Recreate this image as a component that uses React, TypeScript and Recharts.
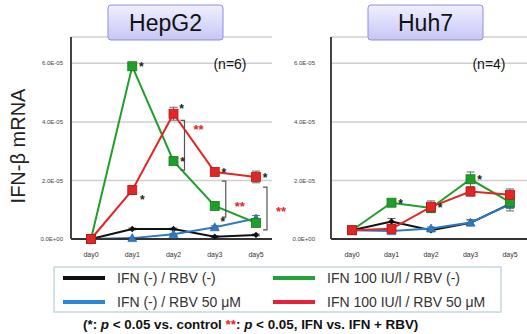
import React from 'react';
import { LineChart, Line, XAxis, YAxis, CartesianGrid, ErrorBar, LabelList, ReferenceLine, ReferenceDot } from 'recharts';

const days = ['day0', 'day1', 'day2', 'day3', 'day5'];
const yTicks = [0, 2e-5, 4e-5, 6e-5];

// HepG2 (values x 1e-5)
const hepBlack = [0, 0.34, 0.34, 0.08, 0.14];
const hepBlue = [0, 0.03, 0.16, 0.4, 0.7];
const hepGreen = [0, 5.9, 2.66, 1.13, 0.55];
const hepRed = [0, 1.67, 4.28, 2.29, 2.12];
const hepBlackErr = [0, 0.03, 0.03, 0.03, 0.03];
const hepBlueErr = [0, 0.02, 0.03, 0.05, 0.1];
const hepGreenErr = [0, 0.08, 0.1, 0.08, 0.05];
const hepRedErr = [0, 0.15, 0.22, 0.1, 0.2];
const hepBlueStar = ['', '', '', 'tr', ''];
const hepGreenStar = ['', 'r', 'r', '', ''];
const hepRedStar = ['', 'br', 'tr', 'r', 'r'];
const hepBrackets = [
  { day: 'day2', top: 4.05, bottom: 2.35, star: 3.82 },
  { day: 'day3', top: 1.98, bottom: 0.75, star: 1.19 },
  { day: 'day5', top: 1.77, bottom: 0.31, star: 1.02 },
];

// Huh7 (values x 1e-5)
const huhBlack = [0.3, 0.6, 0.3, 0.55, 1.2];
const huhBlue = [0.3, 0.27, 0.36, 0.56, 1.18];
const huhGreen = [0.3, 1.24, 1.06, 2.04, 1.26];
const huhRed = [0.3, 0.35, 1.1, 1.62, 1.51];
const huhBlackErr = [0.03, 0.1, 0.05, 0.1, 0.15];
const huhBlueErr = [0.03, 0.05, 0.05, 0.1, 0.22];
const huhGreenErr = [0.03, 0.1, 0.08, 0.25, 0.1];
const huhRedErr = [0.03, 0.08, 0.2, 0.15, 0.2];
const huhBlueStar = ['', '', '', '', ''];
const huhGreenStar = ['', 'r', '', 'r', ''];
const huhRedStar = ['', '', 'r', '', ''];

const C_BLACK = '#111111';
const C_BLUE = '#2f78c4';
const C_GREEN = '#1f9e2a';
const C_RED = '#e22626';

const E = 1e-5;

function build(bl: number[], bu: number[], gr: number[], re: number[], ble: number[], bue: number[], gre: number[], ree: number[], bus: string[], grs: string[], res: string[]) {
  return days.map((d, i) => ({
    day: d,
    black: bl[i] * E, blue: bu[i] * E, green: gr[i] * E, red: re[i] * E,
    blackErr: ble[i] * E, blueErr: bue[i] * E, greenErr: gre[i] * E, redErr: ree[i] * E,
    blueStar: bus[i], greenStar: grs[i], redStar: res[i],
  }));
}

const hepData = build(hepBlack, hepBlue, hepGreen, hepRed, hepBlackErr, hepBlueErr, hepGreenErr, hepRedErr, hepBlueStar, hepGreenStar, hepRedStar);
const huhData = build(huhBlack, huhBlue, huhGreen, huhRed, huhBlackErr, huhBlueErr, huhGreenErr, huhRedErr, huhBlueStar, huhGreenStar, huhRedStar);

const fmt = (v: number) => {
  if (v === 0) return '0.0E+00';
  const [m, e] = v.toExponential(1).split('e');
  const n = parseInt(e, 10);
  const s = n < 0 ? '-' : '+';
  const a = Math.abs(n).toString().padStart(2, '0');
  return `${m}E${s}${a}`;
};

const squareDot = (color: string, stroke: string) => (p: any) => {
  const { cx, cy, index } = p;
  if (cx == null || cy == null) return <g key={index} />;
  return <rect key={index} x={cx - 4.5} y={cy - 4.5} width={9} height={9} fill={color} stroke={stroke} strokeWidth={0.8} />;
};
const triDot = (p: any) => {
  const { cx, cy, index } = p;
  if (cx == null || cy == null) return <g key={index} />;
  return <path key={index} d={`M${cx},${cy - 4.5} L${cx + 4.5},${cy + 3.5} L${cx - 4.5},${cy + 3.5} Z`} fill={C_BLUE} stroke="#1d5c9e" strokeWidth={0.6} />;
};
const diaDot = (p: any) => {
  const { cx, cy, index } = p;
  if (cx == null || cy == null) return <g key={index} />;
  return <path key={index} d={`M${cx},${cy - 3.2} L${cx + 3.2},${cy} L${cx},${cy + 3.2} L${cx - 3.2},${cy} Z`} fill={C_BLACK} />;
};

const starOffsets: Record<string, [number, number]> = {
  r: [9, 5],
  tr: [8, -1],
  br: [10, 14],
};
const renderStar = (p: any) => {
  const { x, y, value, index } = p;
  if (!value) return <g key={index} />;
  const o = starOffsets[value];
  return (
    <text key={index} x={x + o[0]} y={y + o[1]} fontSize={12} fontWeight="bold" fill="#222" fontFamily="Liberation Sans, Arial, sans-serif" textAnchor="middle">*</text>
  );
};

const bracketShape = (p: any) => {
  const { x1, y1, y2 } = p;
  const x = x1 + 11;
  const top = Math.min(y1, y2);
  const bot = Math.max(y1, y2);
  return <path d={`M${x - 4},${top} L${x},${top} L${x},${bot} L${x - 4},${bot}`} fill="none" stroke="#555" strokeWidth={1.2} />;
};
const bracketStar = (p: any) => {
  const { cx, cy } = p;
  return <text x={cx + 25} y={cy + 7} fontSize={13} fontWeight="bold" fill={C_RED} textAnchor="middle" fontFamily="Liberation Sans, Arial, sans-serif">**</text>;
};

function Panel({ data, tickMargin, width, right, padding, brackets }: { data: any[]; tickMargin: number; width: number; right: number; padding: { left: number; right: number }; brackets?: typeof hepBrackets }) {
  return (
    <LineChart width={width} height={265} data={data} margin={{ top: 37, right, left: 0, bottom: 0 }}>
      <CartesianGrid horizontal vertical={false} stroke="#cfcfcf" strokeWidth={1.5} />
      <XAxis dataKey="day" height={26} tickLine={false} tickSize={0} tickMargin={13} axisLine={{ stroke: '#333', strokeWidth: 2 }}
        tick={{ fontSize: 7, fill: '#333', fontFamily: 'Liberation Sans, Arial, sans-serif' }}
        padding={padding} interval={0} />
      <YAxis width={71} domain={[0, 6.9e-5]} ticks={yTicks} tickFormatter={fmt} tickLine={false} tickSize={0} tickMargin={tickMargin}
        axisLine={{ stroke: '#444', strokeWidth: 2 }}
        tick={{ fontSize: 6, fill: '#444', fontFamily: 'Liberation Sans, Arial, sans-serif' }} />
      <Line dataKey="black" stroke={C_BLACK} strokeWidth={2} dot={diaDot} isAnimationActive={false}>
        <ErrorBar dataKey="blackErr" direction="y" width={4} stroke="#666" strokeWidth={1} />
      </Line>
      <Line dataKey="blue" stroke={C_BLUE} strokeWidth={2} dot={triDot} isAnimationActive={false}>
        <ErrorBar dataKey="blueErr" direction="y" width={4} stroke="#666" strokeWidth={1} />
        <LabelList dataKey="blueStar" content={renderStar} />
      </Line>
      <Line dataKey="green" stroke={C_GREEN} strokeWidth={2} dot={squareDot(C_GREEN, '#157a1e')} isAnimationActive={false}>
        <ErrorBar dataKey="greenErr" direction="y" width={4} stroke="#666" strokeWidth={1} />
        <LabelList dataKey="greenStar" content={renderStar} />
      </Line>
      <Line dataKey="red" stroke={C_RED} strokeWidth={2} dot={squareDot(C_RED, '#b51a1a')} isAnimationActive={false}>
        <ErrorBar dataKey="redErr" direction="y" width={4} stroke="#666" strokeWidth={1} />
        <LabelList dataKey="redStar" content={renderStar} />
      </Line>
      {(brackets || []).map((b) => (
        <ReferenceLine key={'bl' + b.day} segment={[{ x: b.day, y: b.top * E }, { x: b.day, y: b.bottom * E }]} shape={bracketShape} />
      ))}
      {(brackets || []).map((b) => (
        <ReferenceDot key={'bs' + b.day} x={b.day} y={b.star * E} r={0} shape={bracketStar} />
      ))}
    </LineChart>
  );
}

const legendItems = [
  { label: 'IFN (-) / RBV (-)', color: C_BLACK, x: 63, y: 278 },
  { label: 'IFN (-) / RBV 50 \u03bcM', color: '#2c86d6', x: 63, y: 302 },
  { label: 'IFN 100 IU/l / RBV (-)', color: '#23a23a', x: 273, y: 278 },
  { label: 'IFN 100 IU/l / RBV 50 \u03bcM', color: '#e8213a', x: 273, y: 302 },
];

const FONT = 'Liberation Sans, Arial, sans-serif';

function TitleBox({ x, w, text, id }: { x: number; w: number; text: string; id: string }) {
  return (
    <g>
      <rect x={x} y={5} width={w} height={35} rx={3} fill={`url(#${id})`} stroke="#8d8de0" strokeWidth={1} />
      <text x={x + w / 2} y={23} fontSize={23} fill="#111" textAnchor="middle" dominantBaseline="central" fontFamily={FONT}>{text}</text>
    </g>
  );
}

export default function App() {
  return (
    <div style={{ position: 'fixed', left: 0, top: 0, width: 527, height: 334, background: '#fff', overflow: 'hidden', fontFamily: FONT }}>
      <div style={{ position: 'absolute', left: 0, top: 0 }}>
        <Panel data={hepData} tickMargin={8} width={295} right={23} padding={{ left: 20, right: 16 }} brackets={hepBrackets} />
      </div>
      <div style={{ position: 'absolute', left: 260, top: 0 }}>
        <Panel data={huhData} tickMargin={16} width={267} right={0} padding={{ left: 21, right: 17 }} />
      </div>
      <svg width={527} height={334} style={{ position: 'absolute', left: 0, top: 0, pointerEvents: 'none' }}>
        <defs>
          <linearGradient id="tg1" x1="0" y1="0" x2="0" y2="1">
            <stop offset="0" stopColor="#f0f0ff" />
            <stop offset="1" stopColor="#c6c6f6" />
          </linearGradient>
          <linearGradient id="tg2" x1="0" y1="0" x2="0" y2="1">
            <stop offset="0" stopColor="#f0f0ff" />
            <stop offset="1" stopColor="#c6c6f6" />
          </linearGradient>
        </defs>
        <TitleBox x={108} w={115} text="HepG2" id="tg1" />
        <TitleBox x={368} w={115} text="Huh7" id="tg2" />
        <text x={230} y={64} fontSize={14} fill="#111" textAnchor="middle" dominantBaseline="central" fontFamily={FONT}>(n=6)</text>
        <text x={489} y={64} fontSize={14} fill="#111" textAnchor="middle" dominantBaseline="central" fontFamily={FONT}>(n=4)</text>
        <text transform="translate(18,146) rotate(-90)" fontSize={20} fill="#222" textAnchor="middle" dominantBaseline="central" fontFamily={FONT}>IFN-β mRNA</text>
        <rect x={54} y={267} width={447} height={45} fill="#fff" stroke="#b5cdd3" strokeWidth={1.2} />
        {legendItems.map((it) => (
          <g key={it.label}>
            <line x1={it.x} x2={it.x + 42} y1={it.y} y2={it.y} stroke={it.color} strokeWidth={4} />
            <text x={it.x + 54} y={it.y} fontSize={14} fill="#333" dominantBaseline="central" fontFamily={FONT}>{it.label}</text>
          </g>
        ))}
        <text x={83} y={324} fontSize={13.4} fontWeight="bold" fill="#111" dominantBaseline="central" fontFamily={FONT}>
          (*: <tspan fontStyle="italic">p</tspan> {'< 0.05 vs. control '}<tspan fill={C_RED}>**</tspan>: <tspan fontStyle="italic">p</tspan> {'< 0.05, IFN vs. IFN + RBV)'}
        </text>
      </svg>
    </div>
  );
}
